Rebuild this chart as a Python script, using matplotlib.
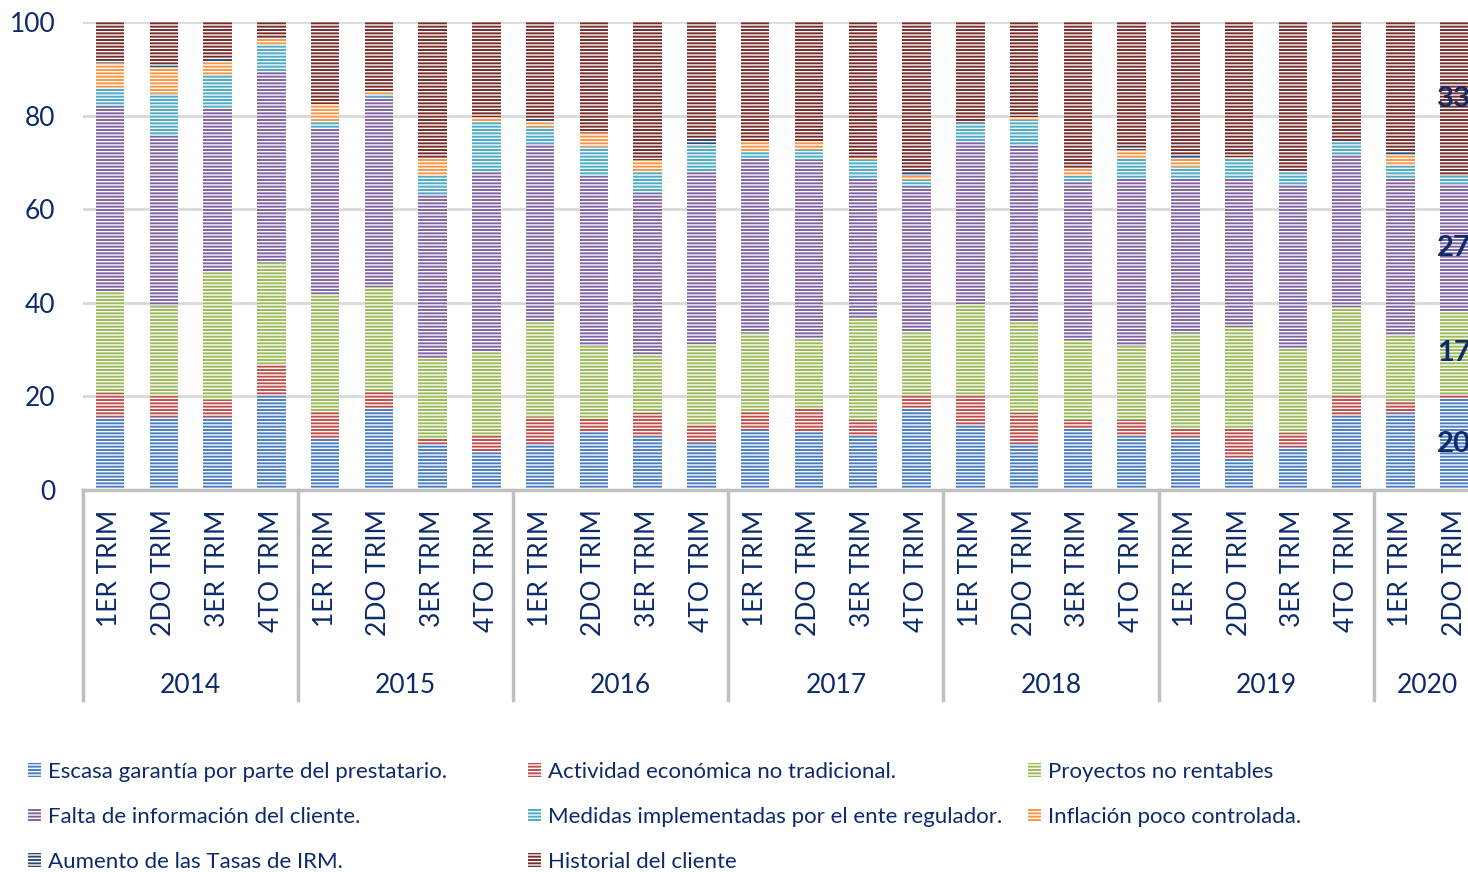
import matplotlib.pyplot as plt
import matplotlib.transforms as mtransforms
import numpy as np

plt.rcParams['font.family'] = ['Lato', 'DejaVu Sans']
plt.rcParams['hatch.color'] = 'white'
plt.rcParams['hatch.linewidth'] = 1.0

# categorias del eje x
quarters = ["1ER TRIM", "2DO TRIM", "3ER TRIM", "4TO TRIM"]
years = ["2014", "2015", "2016", "2017", "2018", "2019", "2020"]
quarters_per_year = [4, 4, 4, 4, 4, 4, 2]

# series (%)
escasa = [15.7, 15.5, 15.5, 20.4, 11.2, 17.6, 9.8, 8.3, 9.9, 12.3, 11.6, 10.0, 12.8,
          12.3, 11.6, 17.6, 13.9, 9.8, 13.2, 11.6, 11.4, 6.6, 9.1, 15.9, 16.5, 19.6]
actividad = [5.0, 4.5, 3.7, 6.4, 5.7, 3.5, 1.4, 3.4, 5.8, 2.8, 4.8, 3.9, 3.9,
             5.2, 3.4, 2.8, 6.3, 6.6, 1.8, 3.4, 1.8, 6.6, 3.1, 4.5, 2.2, 1.0]
proyectos = [21.6, 19.3, 27.7, 21.6, 24.9, 22.3, 16.8, 18.0, 20.4, 15.6, 12.6, 17.4, 16.9,
             15.0, 21.5, 13.5, 19.6, 19.7, 17.0, 15.7, 20.4, 21.6, 18.0, 18.6, 14.5, 17.4]
falta = [39.7, 36.3, 34.8, 41.2, 35.5, 40.6, 35.2, 38.5, 37.9, 36.3, 34.4, 36.9, 37.2,
         38.0, 30.0, 31.0, 34.7, 37.5, 34.0, 35.8, 32.9, 31.7, 35.0, 32.8, 33.3, 27.3]
medidas = [3.6, 9.1, 6.9, 5.5, 1.4, 0.7, 3.9, 10.5, 3.5, 6.3, 4.8, 5.5, 1.6,
           2.2, 4.0, 1.3, 4.0, 5.5, 1.2, 4.5, 2.5, 4.2, 3.0, 2.5, 2.7, 1.8]
inflacion = [5.6, 5.6, 3.0, 1.5, 3.8, 0.6, 3.7, 1.1, 1.1, 3.0, 2.3, 0.2, 2.1,
             1.8, 0.5, 1.0, 0.0, 0.6, 1.5, 1.7, 1.7, 0.5, 0.0, 0.0, 2.3, 0.0]
aumento = [0.7, 0.7, 0.7, 0.0, 0.0, 0.0, 0.0, 0.0, 0.6, 0.0, 0.0, 1.0, 0.0,
           0.0, 0.0, 0.7, 0.0, 0.0, 0.0, 0.6, 1.2, 0.0, 0.0, 0.0, 0.7, 0.0]
historial = [8.1, 9.0, 7.7, 3.4, 17.5, 14.7, 29.2, 20.2, 20.8, 23.7, 29.5, 25.0, 25.5,
             25.5, 29.0, 32.1, 21.5, 20.3, 31.3, 26.7, 28.1, 28.8, 31.8, 25.7, 27.8, 32.9]

series = [
    ("Escasa garantía por parte del prestatario.", escasa, "#4a7ebf"),
    ("Actividad económica no tradicional.", actividad, "#c0504d"),
    ("Proyectos no rentables", proyectos, "#9bbb59"),
    ("Falta de información del cliente.", falta, "#8064a2"),
    ("Medidas implementadas por el ente regulador.", medidas, "#4bacc6"),
    ("Inflación poco controlada.", inflacion, "#f79646"),
    ("Aumento de las Tasas de IRM.", aumento, "#2c4d75"),
    ("Historial del cliente", historial, "#772c2a"),
]

text_color = "#0d2b6b"
grid_color = "#d9d9d9"
axis_color = "#bfbfbf"

labels = [q for n in quarters_per_year for q in quarters[:n]]
x = np.arange(len(labels))

fig = plt.figure(figsize=(14.68, 8.72), dpi=100)
ax = fig.add_axes([83.1 / 1468, 1 - 490 / 872, 26 * 53.77 / 1468, 468 / 872])

bottom = np.zeros(len(x))
handles = {}
for name, vals, color in series:
    vals = np.array(vals)
    bars = ax.bar(x, vals, 0.53, bottom=bottom, color=color, hatch='-----',
                  label=name, zorder=2)
    handles[name] = bars
    if name in ("Escasa garantía por parte del prestatario.", "Proyectos no rentables",
                "Falta de información del cliente.", "Historial del cliente"):
        lab = [""] * (len(x) - 1) + [f"{vals[-1]:.0f}"]
        ax.bar_label(bars, labels=lab, label_type='center', color=text_color,
                     fontsize=21, fontweight='bold')
    bottom += vals

ax.set_xlim(-0.5, len(x) - 0.5)
ax.set_ylim(0, 100)
ax.set_yticks(range(0, 101, 20))
ax.tick_params(axis='y', length=0, pad=20, labelsize=19, labelcolor=text_color)
ax.set_xticks(x)
ax.set_xticklabels(labels, rotation=90, va='top', ha='center')
ax.tick_params(axis='x', length=0, pad=14, labelsize=19, labelcolor=text_color)
ax.grid(axis='y', color=grid_color, linewidth=2, zorder=0)
ax.set_axisbelow(True)
for s in ("left", "right", "top"):
    ax.spines[s].set_visible(False)
ax.spines["bottom"].set_color(axis_color)
ax.spines["bottom"].set_linewidth(2.5)

# separadores y etiquetas de anio
trans = mtransforms.blended_transform_factory(ax.transData, ax.transAxes)
start = 0
for yr, n in zip(years, quarters_per_year):
    ax.plot([start - 0.5, start - 0.5], [0, -0.449], transform=trans, color=axis_color,
            linewidth=2.5, clip_on=False)
    ax.text(start + (n - 1) / 2, -0.418, yr, transform=trans, ha='center', va='center',
            fontsize=19, color=text_color)
    start += n

# leyenda en tres columnas
cols = [
    (["Escasa garantía por parte del prestatario.", "Falta de información del cliente.",
      "Aumento de las Tasas de IRM."], 28),
    (["Actividad económica no tradicional.", "Medidas implementadas por el ente regulador.",
      "Historial del cliente"], 528),
    (["Proyectos no rentables", "Inflación poco controlada."], 1028),
]
for names, xpix in cols:
    fig.legend([handles[n] for n in names], names, loc='upper left',
               bbox_to_anchor=(xpix / 1468, 1 - 762 / 872), frameon=False,
               fontsize=16, labelcolor=text_color, handlelength=0.6, handleheight=0.6,
               handletextpad=0.3, labelspacing=1.13, borderpad=0, borderaxespad=0)

fig.savefig("out.png", dpi=100)
